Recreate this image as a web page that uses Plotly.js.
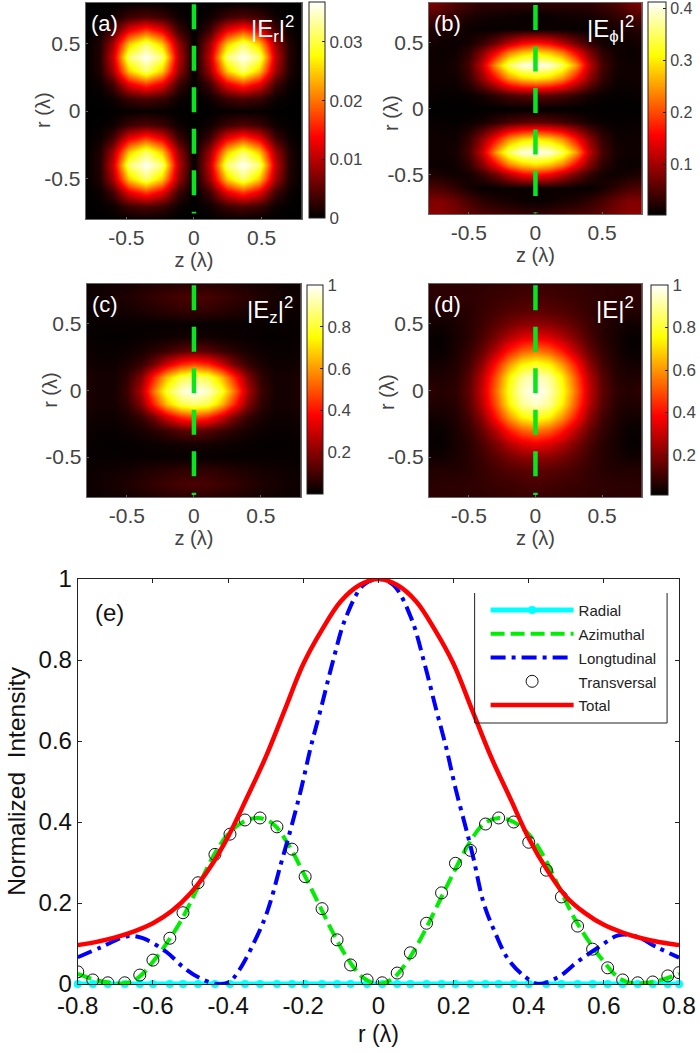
<!DOCTYPE html>
<html><head><meta charset="utf-8">
<script src="https://cdn.plot.ly/plotly-3.0.1.min.js"></script>
<style>html,body{margin:0;padding:0;background:#fff}#p{width:700px;height:1053px}</style>
</head><body><div id="p"></div>
<script>
const hot=[[0,'#000000'],[0.375,'#ff0000'],[0.75,'#ffff00'],[1,'#ffffff']];
const zGridA=[-.8,-.7,-.6,-.48,-.36,-.24,-.12,0,.12,.24,.36,.48,.6,.7,.8];
const rGridA=[.8,.7,.6,.5,.4,.3,.2,.1,0,-.1,-.2,-.3,-.4,-.5,-.6,-.7,-.8];
const zA_milli=[
[0,0,.1,.3,.4,.3,.1,0,.1,.3,.4,.3,.1,0,0],
[0,.2,.8,3.3,4.4,3.3,.8,0,.8,3.3,4.4,3.3,.8,.2,0],
[0,.7,3.6,12.8,17,12.8,3.5,0,3.5,12.8,17,12.8,3.6,.7,0],
[0,1.8,8.8,24.8,31.8,24.8,8.5,0,8.5,24.8,31.8,24.8,8.8,1.8,0],
[0,2,11,32,36.5,32,10.5,0,10.5,32,36.5,32,11,2,0],
[0,1.8,8.8,24.8,31.8,24.8,8.5,0,8.5,24.8,31.8,24.8,8.8,1.8,0],
[0,.7,3.6,12.8,17,12.8,3.5,0,3.5,12.8,17,12.8,3.6,.7,0],
[0,.2,.8,3.3,4.4,3.3,.8,0,.8,3.3,4.4,3.3,.8,.2,0],
[0,0,.1,.3,.4,.3,.1,0,.1,.3,.4,.3,.1,0,0],
[0,.2,.8,3.3,4.4,3.3,.8,0,.8,3.3,4.4,3.3,.8,.2,0],
[0,.7,3.6,12.8,17,12.8,3.5,0,3.5,12.8,17,12.8,3.6,.7,0],
[0,1.8,8.8,24.8,31.8,24.8,8.5,0,8.5,24.8,31.8,24.8,8.8,1.8,0],
[0,2,11,32,36.5,32,10.5,0,10.5,32,36.5,32,11,2,0],
[0,1.8,8.8,24.8,31.8,24.8,8.5,0,8.5,24.8,31.8,24.8,8.8,1.8,0],
[0,.7,3.6,12.8,17,12.8,3.5,0,3.5,12.8,17,12.8,3.6,.7,0],
[0,.2,.8,3.3,4.4,3.3,.8,0,.8,3.3,4.4,3.3,.8,.2,0],
[0,0,.1,.3,.4,.3,.1,0,.1,.3,.4,.3,.1,0,0]];
const zGrid=[-.8,-.7,-.6,-.5,-.4,-.3,-.2,-.1,0,.1,.2,.3,.4,.5,.6,.7,.8];
const rGridB=[.8,.7,.6,.5,.43,.33,.23,.1,0,-.1,-.23,-.33,-.43,-.5,-.6,-.7,-.8];
const zB=[
[.08,.07,.05,.04,.03,.03,.03,.03,.03,.03,.03,.03,.03,.04,.05,.07,.08],
[.05,.04,.03,.02,.015,.012,.01,.008,.006,.008,.01,.012,.015,.02,.03,.04,.05],
[.025,.02,.015,.01,.006,.006,.008,.008,.008,.008,.008,.006,.006,.01,.015,.02,.025],
[.015,.01,.008,.014,.035,.07,.115,.155,.17,.155,.115,.07,.035,.014,.008,.01,.015],
[.01,.008,.012,.03,.08,.15,.23,.27,.29,.27,.23,.15,.08,.03,.012,.008,.01],
[.012,.01,.016,.045,.12,.25,.35,.4,.41,.4,.35,.25,.12,.045,.016,.01,.012],
[.012,.01,.012,.035,.09,.165,.245,.285,.3,.285,.245,.165,.09,.035,.012,.01,.012],
[.008,.006,.005,.008,.015,.03,.045,.055,.06,.055,.045,.03,.015,.008,.005,.006,.008],
[.003,.003,.003,.003,.003,.003,.003,.003,.003,.003,.003,.003,.003,.003,.003,.003,.003],
[.008,.006,.005,.008,.015,.03,.045,.055,.06,.055,.045,.03,.015,.008,.005,.006,.008],
[.012,.01,.012,.035,.09,.165,.245,.285,.3,.285,.245,.165,.09,.035,.012,.01,.012],
[.012,.01,.016,.045,.12,.25,.35,.4,.41,.4,.35,.25,.12,.045,.016,.01,.012],
[.01,.008,.012,.03,.08,.15,.23,.27,.29,.27,.23,.15,.08,.03,.012,.008,.01],
[.02,.015,.01,.014,.035,.07,.115,.155,.17,.155,.115,.07,.035,.014,.01,.015,.02],
[.05,.045,.03,.015,.006,.006,.008,.008,.008,.008,.008,.006,.006,.015,.03,.045,.05],
[.08,.08,.065,.045,.03,.02,.015,.01,.008,.01,.015,.02,.03,.045,.065,.08,.08],
[.085,.085,.075,.06,.05,.045,.04,.035,.03,.035,.04,.045,.05,.06,.075,.085,.085]];
const rGrid=[.8,.7,.6,.5,.4,.3,.2,.1,0,-.1,-.2,-.3,-.4,-.5,-.6,-.7,-.8];
const zC=[
[.015,.02,.025,.03,.04,.05,.055,.06,.06,.06,.055,.05,.04,.03,.025,.02,.015],
[.02,.025,.035,.045,.06,.075,.09,.105,.11,.105,.09,.075,.06,.045,.035,.025,.02],
[.015,.02,.025,.03,.04,.05,.06,.07,.07,.07,.06,.05,.04,.03,.025,.02,.015],
[.01,.01,.01,.01,.01,.01,.01,.01,.01,.01,.01,.01,.01,.01,.01,.01,.01],
[.012,.008,.006,.008,.012,.016,.022,.028,.03,.028,.022,.016,.012,.008,.006,.008,.012],
[.02,.012,.012,.02,.035,.06,.09,.13,.15,.13,.09,.06,.035,.02,.012,.012,.02],
[.03,.02,.02,.04,.075,.17,.31,.43,.48,.43,.31,.17,.075,.04,.02,.02,.03],
[.04,.03,.03,.07,.19,.43,.66,.82,.86,.82,.66,.43,.19,.07,.03,.03,.04],
[.04,.03,.03,.09,.25,.55,.8,.95,1,.95,.8,.55,.25,.09,.03,.03,.04],
[.04,.03,.03,.07,.19,.43,.66,.82,.86,.82,.66,.43,.19,.07,.03,.03,.04],
[.03,.02,.02,.04,.075,.17,.31,.43,.48,.43,.31,.17,.075,.04,.02,.02,.03],
[.02,.012,.012,.02,.035,.06,.09,.13,.15,.13,.09,.06,.035,.02,.012,.012,.02],
[.012,.008,.006,.008,.012,.016,.022,.028,.03,.028,.022,.016,.012,.008,.006,.008,.012],
[.01,.01,.01,.01,.01,.01,.01,.01,.01,.01,.01,.01,.01,.01,.01,.01,.01],
[.015,.02,.025,.03,.04,.05,.06,.07,.07,.07,.06,.05,.04,.03,.025,.02,.015],
[.02,.025,.035,.045,.06,.075,.09,.105,.11,.105,.09,.075,.06,.045,.035,.025,.02],
[.015,.02,.025,.03,.04,.05,.055,.06,.06,.06,.055,.05,.04,.03,.025,.02,.015]];
const zD=[
[.08,.075,.075,.075,.08,.085,.09,.095,.095,.095,.09,.085,.08,.075,.075,.075,.08],
[.07,.075,.075,.08,.085,.095,.1,.11,.115,.11,.1,.095,.085,.08,.075,.075,.07],
[.06,.06,.06,.07,.09,.11,.13,.14,.15,.14,.13,.11,.09,.07,.06,.06,.06],
[.04,.035,.05,.07,.1,.14,.18,.21,.22,.21,.18,.14,.1,.07,.05,.035,.04],
[.022,.022,.045,.07,.12,.19,.27,.33,.36,.33,.27,.19,.12,.07,.045,.022,.022],
[.025,.025,.05,.09,.16,.28,.42,.52,.56,.52,.42,.28,.16,.09,.05,.025,.025],
[.04,.04,.06,.11,.22,.41,.6,.74,.79,.74,.6,.41,.22,.11,.06,.04,.04],
[.06,.055,.07,.14,.28,.5,.74,.9,.95,.9,.74,.5,.28,.14,.07,.055,.06],
[.08,.065,.08,.15,.3,.54,.78,.94,1,.94,.78,.54,.3,.15,.08,.065,.08],
[.06,.055,.07,.14,.28,.5,.74,.9,.95,.9,.74,.5,.28,.14,.07,.055,.06],
[.04,.04,.06,.11,.22,.41,.6,.74,.79,.74,.6,.41,.22,.11,.06,.04,.04],
[.025,.025,.05,.09,.16,.28,.42,.52,.56,.52,.42,.28,.16,.09,.05,.025,.025],
[.022,.022,.045,.07,.12,.19,.27,.33,.36,.33,.27,.19,.12,.07,.045,.022,.022],
[.04,.035,.05,.07,.1,.14,.18,.21,.22,.21,.18,.14,.1,.07,.05,.035,.04],
[.06,.06,.06,.07,.09,.11,.13,.14,.15,.14,.13,.11,.09,.07,.06,.06,.06],
[.07,.075,.075,.08,.085,.095,.1,.11,.115,.11,.1,.095,.085,.08,.075,.075,.07],
[.08,.075,.075,.075,.08,.085,.09,.095,.095,.095,.09,.085,.08,.075,.075,.075,.08]];

const transR=[-.8,-.76,-.72,-.675,-.635,-.6,-.555,-.52,-.48,-.435,-.395,-.355,-.315,-.27,-.23,-.195,-.15,-.11,-.074,-.03,.01,.05,.085,.128,.168,.205,.245,.285,.32,.36,.4,.447,.487,.53,.57,.61,.65,.69,.73,.77,.8];
const transV=[.03,.01,.003,.003,.022,.059,.113,.176,.25,.32,.37,.405,.41,.388,.333,.265,.186,.109,.047,.01,.003,.027,.077,.15,.225,.298,.33,.395,.41,.40,.35,.281,.215,.143,.086,.04,.01,.003,.005,.02,.028];
const azR=[-.8,-.76,-.72,-.68,-.64,-.6,-.56,-.52,-.48,-.44,-.4,-.36,-.32,-.28,-.24,-.2,-.16,-.12,-.08,-.04,0,.04,.08,.12,.16,.2,.24,.28,.32,.36,.4,.44,.48,.52,.56,.6,.64,.68,.72,.76,.8];
const azV=[.025,.012,.004,.001,.015,.055,.105,.165,.24,.315,.37,.40,.41,.395,.345,.275,.2,.125,.06,.015,0,.015,.06,.125,.2,.275,.345,.395,.41,.40,.37,.315,.24,.165,.105,.055,.015,.001,.004,.012,.025];
const lonR=[-.8,-.74,-.667,-.627,-.564,-.52,-.476,-.43,-.397,-.37,-.338,-.304,-.285,-.26,-.237,-.206,-.18,-.153,-.123,-.087,-.04,0,.04,.087,.123,.153,.18,.206,.237,.253,.28,.31,.346,.39,.426,.48,.53,.585,.638,.683,.743,.8];
const lonV=[.066,.09,.118,.113,.079,.042,.015,0,.005,.035,.089,.158,.21,.295,.37,.48,.585,.68,.79,.904,.985,1,.985,.904,.79,.68,.585,.48,.37,.31,.2,.128,.06,.018,0,.018,.055,.09,.12,.118,.09,.065];
const totR=[-.8,-.75,-.7,-.65,-.6,-.55,-.5,-.45,-.4,-.35,-.3,-.25,-.2,-.15,-.1,-.05,0,.05,.1,.15,.2,.25,.3,.35,.4,.45,.5,.55,.6,.65,.7,.75,.8];
const totV=[.096,.104,.115,.13,.15,.18,.224,.285,.364,.46,.56,.675,.79,.875,.945,.985,1,.985,.945,.875,.79,.675,.56,.46,.36,.28,.215,.175,.146,.127,.113,.103,.096];
const radV=[0,0,0,0,0,0,0,0,0,0,0,0,0,0,0,0,0,0,0,0,0,0,0,0,0,0,0,0,0,0,0,0,0,0,0,0,0,0,0,0,0];
const seriesNames=['Radial','Azimuthal','Longtudinal','Transversal','Total'];
const lineX=[0,0];
const panelTicks=[-.5,0,.5];

const W=700,H=1053;
const fx=p=>p/W, fy=p=>1-p/H;
const FONT='"Liberation Sans",Arial,sans-serif';
const panels=[
 {id:'',x:[86,303],y:[3,219],cb:[310,2,218],th:16,z:zA_milli,xg:zGridA,yg:rGridA,cmin:0,cmax:36.8,tv:[0,10,20,30],tt:['0','0.01','0.02','0.03'],lab:'(a)',ttl:'|E<sub>r</sub>|<sup>2</sup>',cf:17,ly:[.79,-.76],rt:[43,110]},
 {id:'2',x:[430,644],y:[3,214],cb:[650,2,215],th:18,z:zB,xg:zGrid,yg:rGridB,cmin:.002,cmax:.413,tv:[.1,.2,.3,.4],tt:['0.1','0.2','0.3','0.4'],lab:'(b)',ttl:'|E<sub>ϕ</sub>|<sup>2</sup>',cf:16,ly:[.785,-.795],rt:[392,113]},
 {id:'3',x:[87,302],y:[284,497],cb:[308,285,494],th:16,z:zC,xg:zGrid,yg:rGrid,cmin:0,cmax:1,tv:[.2,.4,.6,.8,1],tt:['0.2','0.4','0.6','0.8','1'],lab:'(c)',ttl:'|E<sub>z</sub>|<sup>2</sup>',cf:17,ly:[.79,-.785],rt:[50,390]},
 {id:'4',x:[430,644],y:[284,497],cb:[653,285,495],th:17,z:zD,xg:zGrid,yg:rGrid,cmin:.012,cmax:1,tv:[.2,.4,.6,.8,1],tt:['0.2','0.4','0.6','0.8','1'],lab:'(d)',ttl:'|E|<sup>2</sup>',cf:17,ly:[.79,-.785],rt:[388,392]}
];
const data=[],annotations=[];
const layout={width:W,height:H,margin:{l:0,r:0,t:0,b:0},paper_bgcolor:'#fff',plot_bgcolor:'#fff',font:{family:FONT,color:'#333'},showlegend:true};
const GREY='#444';
panels.forEach(p=>{
 const xa='x'+p.id,ya='y'+p.id;
 data.push({type:'heatmap',x:p.xg,y:p.yg,z:p.z,xaxis:xa,yaxis:ya,colorscale:hot,zmin:p.cmin,zmax:p.cmax,zsmooth:'best',showlegend:false,hoverinfo:'skip',
  colorbar:{x:fx(p.cb[0]),xanchor:'left',xpad:0,ypad:0,thickness:p.th,thicknessmode:'pixels',len:(p.cb[2]-p.cb[1])/H,lenmode:'fraction',y:fy(p.cb[2]),yanchor:'bottom',
   outlinecolor:'#222',outlinewidth:1,ticks:'inside',ticklen:3,tickcolor:'#222',tickvals:p.tv,ticktext:p.tt,tickfont:{size:p.cf,color:GREY,family:FONT}}});
 data.push({type:'scatter',mode:'lines',x:lineX,y:p.ly,xaxis:xa,yaxis:ya,showlegend:false,hoverinfo:'skip',line:{color:'#06e61c',width:4.5,dash:'25px,16.5px'}});
 const ax={showgrid:false,zeroline:false,showline:true,linecolor:'#666',linewidth:1,mirror:true,ticks:'inside',ticklen:2,tickcolor:'#666',tickfont:{size:21,color:GREY,family:FONT},range:[-.8,.8],tickvals:panelTicks,ticktext:['-0.5','0','0.5'],automargin:false};
 layout['xaxis'+p.id]=Object.assign({},ax,{anchor:ya,domain:[fx(p.x[0]),fx(p.x[1])],title:{text:'z (λ)',font:{size:20,color:GREY,family:FONT},standoff:2}});
 layout['yaxis'+p.id]=Object.assign({},ax,{anchor:xa,domain:[fy(p.y[1]),fy(p.y[0])]});
 annotations.push({xref:'paper',yref:'paper',x:fx(p.rt[0]),y:fy(p.rt[1]),xanchor:'center',yanchor:'middle',textangle:-90,text:'r (λ)',showarrow:false,font:{size:20,color:GREY,family:FONT}});
 annotations.push({xref:'paper',yref:'paper',x:fx(p.x[0]+3),y:fy(p.y[0]+6),xanchor:'left',yanchor:'top',text:p.lab,showarrow:false,font:{size:22,color:'#fff',family:FONT}});
 annotations.push({xref:'paper',yref:'paper',x:fx(p.x[1]-6),y:fy(p.y[0]+7),xanchor:'right',yanchor:'top',text:p.ttl,showarrow:false,font:{size:24,color:'#fff',family:FONT}});
});
const e={xa:'x5',ya:'y5'};
const leg=t=>'<span style="font-size:15px">'+t+'</span>';
data.push({type:'scatter',mode:'lines+markers',name:leg(seriesNames[0]),x:transR,y:radV,xaxis:e.xa,yaxis:e.ya,cliponaxis:false,line:{color:'#00ffff',width:5},marker:{color:'#00ffff',size:8,symbol:'circle'}});
data.push({type:'scatter',mode:'lines',name:leg(seriesNames[1]),x:azR,y:azV,xaxis:e.xa,yaxis:e.ya,line:{color:'#00ee00',width:4,dash:'14px,6px',shape:'spline'}});
data.push({type:'scatter',mode:'lines',name:leg(seriesNames[2]),x:lonR,y:lonV,xaxis:e.xa,yaxis:e.ya,line:{color:'#0000ff',width:4,dash:'15px,6px,4px,6px',shape:'spline'}});
data.push({type:'scatter',mode:'markers',name:leg(seriesNames[3]),x:transR,y:transV,xaxis:e.xa,yaxis:e.ya,marker:{symbol:'circle-open',size:12,color:'#111',line:{width:1,color:'#111'}}});
data.push({type:'scatter',mode:'lines',name:leg(seriesNames[4]),x:totR,y:totV,xaxis:e.xa,yaxis:e.ya,line:{color:'#ff0000',width:4.5,shape:'spline'}});
const ef={size:24,color:'#111',family:FONT};
layout.xaxis5={anchor:'y5',domain:[fx(78),fx(681)],range:[-.8,.8],showgrid:false,zeroline:false,showline:true,linecolor:'#222',mirror:'ticks',ticks:'inside',ticklen:4,tickcolor:'#222',tickvals:[-.8,-.6,-.4,-.2,0,.2,.4,.6,.8],ticktext:['-0.8','-0.6','-0.4','-0.2','0','0.2','0.4','0.6','0.8'],tickfont:ef,title:{text:'r (λ)',font:{size:23,color:'#111',family:FONT},standoff:8}};
layout.yaxis5={anchor:'x5',domain:[fy(984),fy(579)],range:[0,1],showgrid:false,zeroline:false,showline:true,linecolor:'#222',mirror:'ticks',ticks:'inside',ticklen:4,tickcolor:'#222',tickvals:[0,.2,.4,.6,.8,1],ticktext:['0','0.2','0.4','0.6','0.8','1'],tickfont:ef,title:{text:'Normalized  Intensity',font:{size:24.5,color:'#111',family:FONT},standoff:6}};
annotations.push({xref:'paper',yref:'paper',x:fx(93),y:fy(597),xanchor:'left',yanchor:'top',text:'(e)',showarrow:false,font:{size:24,color:'#111',family:FONT}});
layout.legend={x:fx(487),y:fy(593),xanchor:'left',yanchor:'top',bgcolor:'rgba(0,0,0,0)',borderwidth:0,font:{size:16,color:'#222',family:FONT},itemwidth:83,itemsizing:'trace',entrywidth:88,entrywidthmode:'pixels',traceorder:'normal'};
layout.annotations=annotations;
layout.shapes=[
 {type:'line',xref:'paper',yref:'paper',x0:fx(476),x1:fx(476),y0:fy(593),y1:fy(723),line:{color:'#222',width:1}},
 {type:'line',xref:'paper',yref:'paper',x0:fx(669),x1:fx(669),y0:fy(593),y1:fy(723),line:{color:'#222',width:1}},
 {type:'line',xref:'paper',yref:'paper',x0:fx(476),x1:fx(669),y0:fy(723),y1:fy(723),line:{color:'#222',width:1}}
];
Plotly.newPlot('p',data,layout,{displayModeBar:false,staticPlot:true});
</script></body></html>
